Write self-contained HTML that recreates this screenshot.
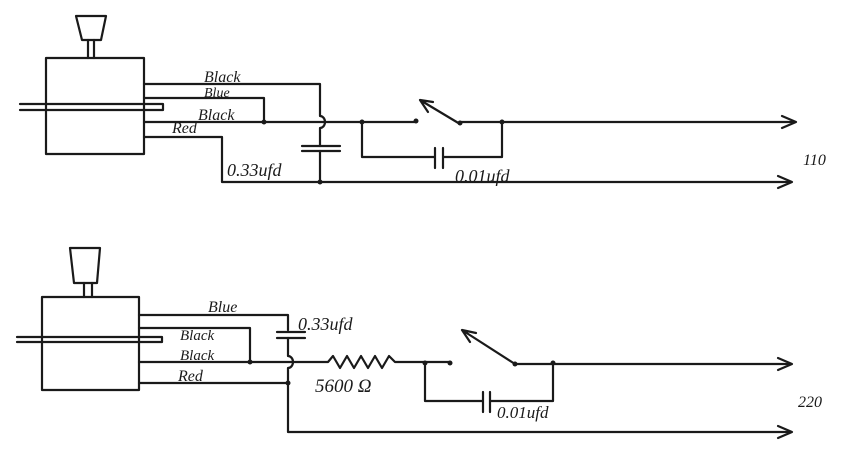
<!DOCTYPE html>
<html><head><style>html,body{margin:0;padding:0;background:#fff}svg{display:block}</style></head><body>
<svg width="844" height="456" viewBox="0 0 844 456" xmlns="http://www.w3.org/2000/svg">
<g fill="none" stroke="#1a1a1a" stroke-width="2.2" stroke-linecap="round" stroke-linejoin="round">
<!-- TOP -->
<path d="M76 16 L106 16 L101 40 L82 40 Z"/>
<path d="M88 40 V58 M94 40 V58"/>
<rect x="46" y="58" width="98" height="96"/>
<path d="M20 104 H163 V110 H20"/>
<path d="M144 84 H320 V116 A5 6 0 0 1 320 128 V146"/>
<path d="M302 146 H340 M302 151 H340"/>
<path d="M320 151 V182"/>
<path d="M144 98 H264 V122"/>
<path d="M144 122 H416"/>
<path d="M144 137 H222 V182 H790"/>
<path d="M778 176 L792 182 L778 188"/>
<path d="M362 122 V157 H435 M435 148 V168 M443 148 V168 M443 157 H502 V122"/>
<path d="M460 124 L420 100 M420 100 L428 112 M420 100 L433 102"/>
<path d="M460 122 H795"/>
<path d="M782 116 L796 122 L782 128"/>
<!-- BOTTOM -->
<path d="M70 248 L100 248 L97 283 L74 283 Z"/>
<path d="M84 283 V297 M92 283 V297"/>
<rect x="42" y="297" width="97" height="93"/>
<path d="M17 337 H162 V342 H17"/>
<path d="M139 315 H288 V330"/>
<path d="M277 332 H305 M277 338 H305"/>
<path d="M288 338 V356 A5 6 0 0 1 288 368 V432 H790"/>
<path d="M778 426 L792 432 L778 438"/>
<path d="M139 328 H250 V362"/>
<path d="M139 362 H328 L333 356 L340 368 L347 356 L354 368 L361 356 L368 368 L375 356 L382 368 L389 356 L395 362 H450"/>
<path d="M139 383 H288"/>
<path d="M425 363 V401 H483 M483 392 V412 M490 392 V412 M490 401 H553 V363"/>
<path d="M515 364 L462 330 M462 330 L470 342 M462 330 L476 333"/>
<path d="M515 364 H790"/>
<path d="M778 358 L792 364 L778 370"/>
</g>
<g fill="#1a1a1a">
<circle cx="264" cy="122" r="2.5"/><circle cx="320" cy="182" r="2.5"/><circle cx="362" cy="122" r="2.5"/><circle cx="416" cy="121" r="2.5"/><circle cx="460" cy="123" r="2.5"/><circle cx="502" cy="122" r="2.5"/>
<circle cx="250" cy="362" r="2.5"/><circle cx="288" cy="383" r="2.5"/><circle cx="425" cy="363" r="2.5"/><circle cx="450" cy="363" r="2.5"/><circle cx="515" cy="364" r="2.5"/><circle cx="553" cy="363" r="2.5"/>
</g>
<g font-family="Liberation Serif, serif" font-style="italic" fill="#1a1a1a" font-size="16">
<text x="204" y="82">Black</text>
<text x="204" y="97" font-size="14">Blue</text>
<text x="198" y="120">Black</text>
<text x="172" y="133">Red</text>
<text x="227" y="176" font-size="18">0.33ufd</text>
<text x="455" y="182" font-size="18">0.01ufd</text>
<text x="803" y="165" font-size="16">110</text>
<text x="208" y="312">Blue</text>
<text x="180" y="340" font-size="15">Black</text>
<text x="180" y="360" font-size="15">Black</text>
<text x="178" y="381">Red</text>
<text x="298" y="330" font-size="18">0.33ufd</text>
<text x="315" y="392" font-size="19">5600 Ω</text>
<text x="497" y="418" font-size="17">0.01ufd</text>
<text x="798" y="407" font-size="16">220</text>
</g>
</svg>
</body></html>
